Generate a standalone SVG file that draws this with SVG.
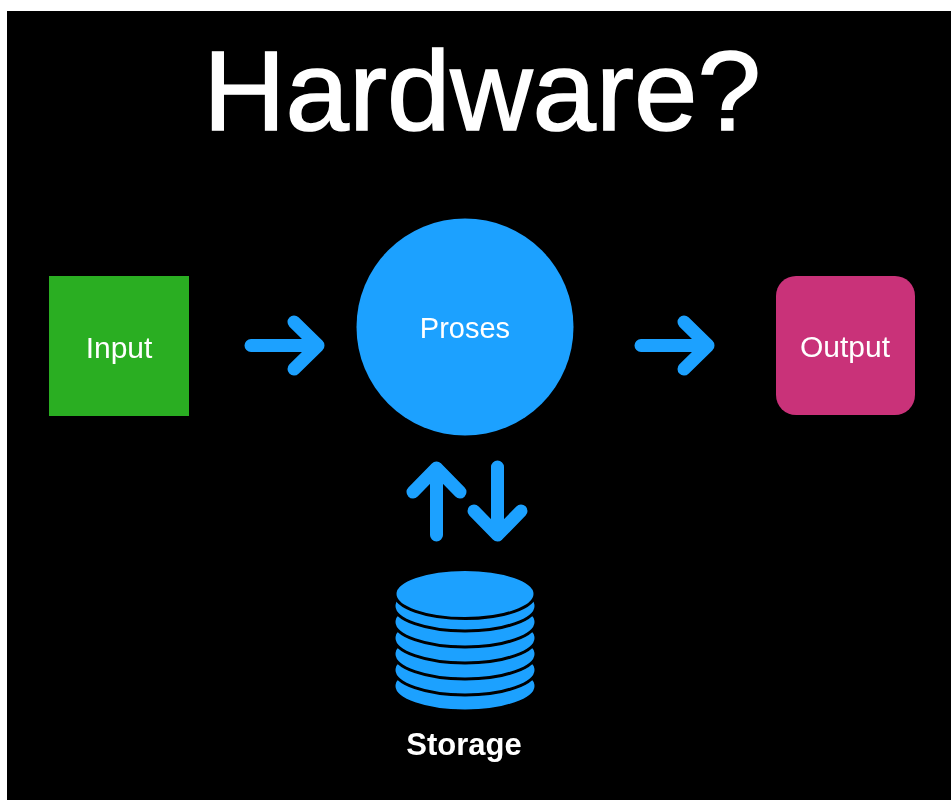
<svg xmlns="http://www.w3.org/2000/svg" width="951" height="800" viewBox="0 0 951 800">
<style>
.t{font-family:"Liberation Sans",Arial,sans-serif;fill:#fff;text-anchor:middle}
.a{fill:none;stroke:#1ea1ff;stroke-width:13;stroke-linecap:round;stroke-linejoin:round}
.d{fill:#1ea1ff;stroke:#000;stroke-width:3}
</style>
<defs><filter id="b" x="-5%" y="-5%" width="110%" height="110%"><feGaussianBlur stdDeviation="0.7"/></filter></defs>
<rect width="951" height="800" fill="#fff"/>
<rect x="7" y="11" width="944" height="789" fill="#000"/>
<g filter="url(#b)">
<text id="title" class="t" x="482" y="130" font-size="114" font-weight="400" stroke="#fff" stroke-width="1.5">Hardware?</text>
<g id="input"><rect x="49" y="276" width="140" height="140" fill="#2bae20"/><text class="t" x="119" y="358" font-size="30">Input</text></g>
<g id="proses"><circle cx="465" cy="327" r="108.500" fill="#1ea1ff"/><text class="t" x="465" y="338" font-size="29">Proses</text></g>
<g id="output"><rect x="776" y="276" width="139" height="139" rx="20" fill="#c93179"/><text class="t" x="845" y="357" font-size="30">Output</text></g>
<g id="storage">
<ellipse class="d" cx="465" cy="686" rx="71" ry="25"/>
<ellipse class="d" cx="465" cy="670" rx="71" ry="25"/>
<ellipse class="d" cx="465" cy="654" rx="71" ry="25"/>
<ellipse class="d" cx="465" cy="638" rx="71" ry="25"/>
<ellipse class="d" cx="465" cy="622" rx="71" ry="25"/>
<ellipse class="d" cx="465" cy="606" rx="71" ry="25"/>
<ellipse class="d" cx="465" cy="594" rx="70" ry="24.500"/>
<text class="t" x="464" y="755" font-size="31" font-weight="700">Storage</text>
</g>
<g id="connectors">
<path class="a" d="M251 345.500H318M294 322L318 345.500L294 369"/>
<path class="a" d="M641 345.500H708M684 322L708 345.500L684 369"/>
<path class="a" d="M436.500 535V468M413 492L436.500 468L460 492"/>
<path class="a" d="M497.500 467V535M474 511L497.500 535L521 511"/>
</g>
</g>
</svg>
